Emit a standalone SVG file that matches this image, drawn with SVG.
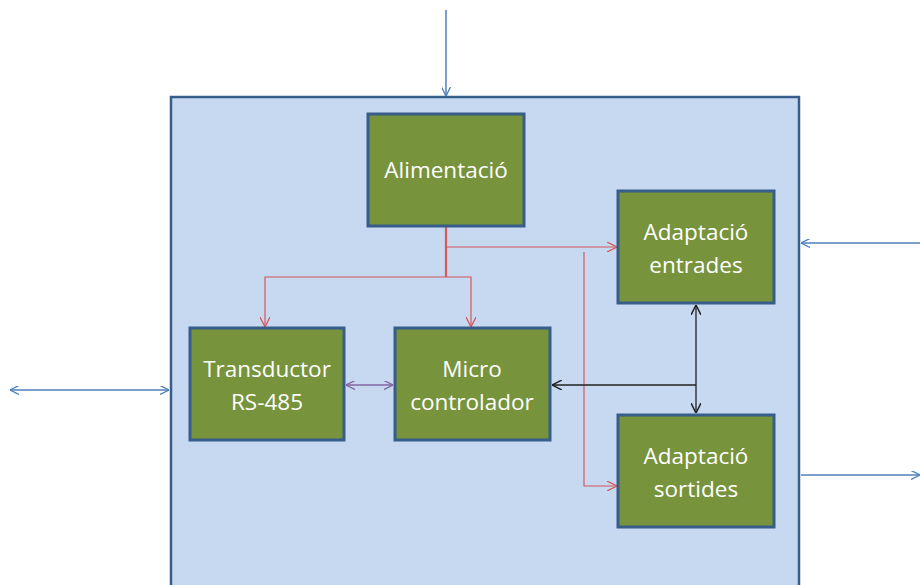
<svg xmlns="http://www.w3.org/2000/svg" width="920" height="585" viewBox="0 0 920 585">
<style>
.blk{fill:#77933c;stroke:#385d8a;stroke-width:3}
.lbl{font-family:"Open Sans","Liberation Sans",sans-serif;font-size:22.5px;fill:#ffffff;text-anchor:middle}
.blue{stroke:#4f81bd;stroke-width:1.5;fill:none}
.red{stroke:#d4595a;stroke-width:1.2;fill:none}
.purple{stroke:#8064a2;stroke-width:1.5;fill:none}
.black{stroke:#222222;stroke-width:1.3;fill:none}
</style>
<defs>
<marker id="ab" viewBox="0 0 10 10" refX="10" refY="5" markerWidth="9" markerHeight="9" markerUnits="userSpaceOnUse" orient="auto-start-reverse"><path d="M0,0 L10,5 L0,10" fill="none" stroke="#4f81bd" stroke-width="1.5"/></marker>
<marker id="ar" viewBox="0 0 10 10" refX="10" refY="5" markerWidth="10" markerHeight="10" markerUnits="userSpaceOnUse" orient="auto-start-reverse"><path d="M0,0 L10,5 L0,10" fill="none" stroke="#d4595a" stroke-width="1.3"/></marker>
<marker id="ap" viewBox="0 0 10 10" refX="10" refY="5" markerWidth="9" markerHeight="9" markerUnits="userSpaceOnUse" orient="auto-start-reverse"><path d="M0,0 L10,5 L0,10" fill="none" stroke="#8064a2" stroke-width="1.5"/></marker>
<marker id="ak" viewBox="0 0 10 10" refX="10" refY="5" markerWidth="10" markerHeight="10" markerUnits="userSpaceOnUse" orient="auto-start-reverse"><path d="M0,0 L10,5 L0,10" fill="none" stroke="#222222" stroke-width="1.5"/></marker>
</defs>
<rect width="920" height="585" fill="#ffffff"/>
<g id="outer"><rect x="171" y="97" width="628" height="520" fill="#c6d9f1" stroke="#385d8a" stroke-width="2.5"/></g>
<g id="connectors">
<line class="blue" x1="446" y1="10" x2="446" y2="96" marker-end="url(#ab)"/>
<line class="blue" x1="10" y1="390" x2="169" y2="390" marker-start="url(#ab)" marker-end="url(#ab)"/>
<line class="blue" x1="920" y1="243" x2="801" y2="243" marker-end="url(#ab)"/>
<line class="blue" x1="801" y1="475" x2="920" y2="475" marker-end="url(#ab)"/>
<line x1="446" y1="227" x2="446" y2="277" stroke="#d4595a" stroke-width="2.2"/>
<polyline class="red" points="265,327 265,277 471,277 471,327" marker-start="url(#ar)" marker-end="url(#ar)"/>
<polyline class="red" points="446,247 617,247" marker-end="url(#ar)"/>
<polyline class="red" points="584,252 584,486 617,486" marker-end="url(#ar)"/>
<line class="purple" x1="346" y1="385" x2="393" y2="385" marker-start="url(#ap)" marker-end="url(#ap)"/>
<line class="black" x1="696" y1="305" x2="696" y2="413" stroke-width="1.8" marker-start="url(#ak)" marker-end="url(#ak)"/>
<line class="black" x1="696" y1="385" x2="552" y2="385" marker-end="url(#ak)"/>
</g>
<g id="alimentacio"><rect class="blk" x="368" y="114" width="156" height="112"/><text class="lbl" x="446" y="178">Alimentació</text></g>
<g id="entrades"><rect class="blk" x="618" y="191" width="156" height="112"/><text class="lbl" x="696" y="240">Adaptació</text><text class="lbl" x="696" y="273">entrades</text></g>
<g id="transductor"><rect class="blk" x="190" y="328" width="154" height="112"/><text class="lbl" x="267" y="377">Transductor</text><text class="lbl" x="267" y="410">RS-485</text></g>
<g id="micro"><rect class="blk" x="395" y="328" width="155" height="112"/><text class="lbl" x="472" y="377">Micro</text><text class="lbl" x="472" y="410">controlador</text></g>
<g id="sortides"><rect class="blk" x="618" y="415" width="156" height="112"/><text class="lbl" x="696" y="464">Adaptació</text><text class="lbl" x="696" y="497">sortides</text></g>
</svg>
